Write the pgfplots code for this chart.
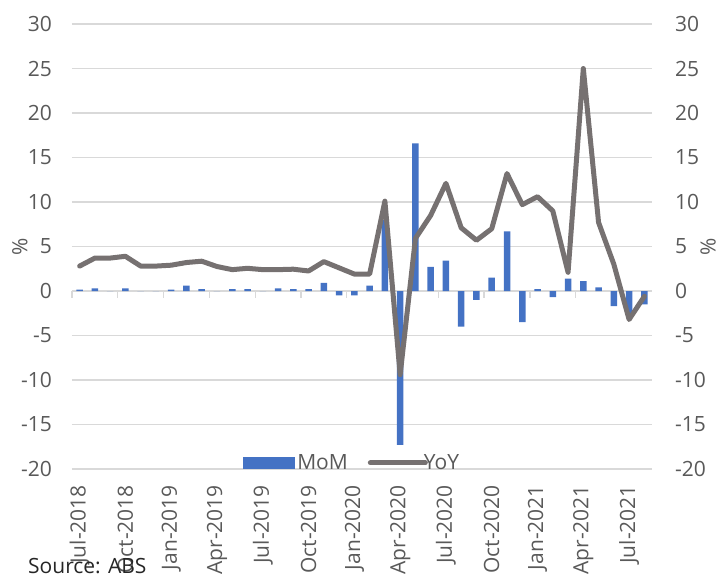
\documentclass[border=0pt]{standalone}
\usepackage{fontspec}
\setmainfont{Open Sans}
\usepackage{pgfplots}
\usepackage{pgfplotstable}
\pgfplotsset{compat=1.18}
\definecolor{mombl}{HTML}{4472C4}
\definecolor{yoygr}{HTML}{767171}
\definecolor{gridc}{HTML}{D9D9D9}
\definecolor{txt}{HTML}{595959}
\newcommand{\lblfont}{\fontsize{21bp}{25bp}\selectfont}

\pgfplotstableread{
i mom yoy
0 0.15 2.8
1 0.3 3.7
2 0.0 3.7
3 0.3 3.9
4 0.0 2.8
5 0.0 2.8
6 0.15 2.9
7 0.6 3.2
8 0.2 3.35
9 0.0 2.75
10 0.2 2.4
11 0.2 2.55
12 0.0 2.4
13 0.3 2.4
14 0.2 2.45
15 0.2 2.25
16 0.9 3.3
17 -0.5 2.6
18 -0.5 1.9
19 0.6 1.9
20 8.0 10.1
21 -17.3 -9.4
22 16.6 5.9
23 2.7 8.5
24 3.4 12.1
25 -4.0 7.1
26 -1.0 5.7
27 1.5 7.0
28 6.7 13.2
29 -3.5 9.7
30 0.2 10.6
31 -0.7 9.0
32 1.4 2.1
33 1.1 25.0
34 0.4 7.7
35 -1.7 3.0
36 -2.5 -3.2
37 -1.5 -0.6
}\datatable

\begin{document}
\begin{tikzpicture}
\begin{axis}[
  name=main,
  scale only axis, width=580bp, height=445bp,
  xmin=-0.5, xmax=37.5, ymin=-20, ymax=30,
  axis line style={draw=none},
  ytick={-20,-15,...,30},
  yticklabels={-20,-15,-10,-5,0,5,10,15,20,25,30},
  ymajorgrids, grid style={gridc, line width=1.3bp},
  major tick length=0pt,
  xtick={0,3,...,36},
  xticklabels={Jul-2018,Oct-2018,Jan-2019,Apr-2019,Jul-2019,Oct-2019,Jan-2020,Apr-2020,Jul-2020,Oct-2020,Jan-2021,Apr-2021,Jul-2021},
  xticklabel style={rotate=90, anchor=east, inner sep=0pt},
  xticklabel shift=16bp,
  yticklabel style={anchor=east, inner sep=0pt},
  yticklabel shift=20bp,
  tick label style={font=\lblfont, text=txt},
  legend style={at={(rel axis cs:0.483,0.0135)}, anchor=center, draw=none, fill=none,
    legend columns=2, font=\lblfont, text=txt,
    /tikz/every even column/.append style={column sep=18bp}},
  clip=false,
]
\pgfplotsinvokeforeach{-0.5,2.5,...,35.5}{
  \draw[gridc, line width=1.3bp] (axis cs:#1,0) -- ([yshift=-7bp]axis cs:#1,0);
}
\addplot[ybar, bar width=6.5bp, fill=mombl, draw=none,
  legend image code/.code={\fill[mombl] (0bp,-6bp) rectangle (52bp,6bp);}]
  table[x=i,y=mom]{\datatable};
\addplot[yoygr, line width=5bp, line join=round, line cap=round, no markers,
  legend image code/.code={\draw[yoygr, line width=5bp, line cap=round] (0bp,0bp) -- (55bp,0bp);}]
  table[x=i,y=yoy]{\datatable};
\legend{MoM,\hspace*{-6bp}YoY}
\node[text=txt, font=\lblfont, rotate=90] at ([xshift=-52bp]rel axis cs:0,0.5) {\%};
\node[text=txt, font=\lblfont, rotate=90] at ([xshift=56bp]rel axis cs:1,0.5) {\%};
\end{axis}
\begin{axis}[
  scale only axis, width=580bp, height=445bp,
  xmin=-0.5, xmax=37.5, ymin=-20, ymax=30,
  axis line style={draw=none},
  hide x axis,
  axis y line*=right,
  ytick={-20,-15,...,30},
  yticklabels={-20,-15,-10,-5,0,5,10,15,20,25,30},
  major tick length=0pt,
  yticklabel style={anchor=west, inner sep=0pt},
  yticklabel shift=23bp,
  tick label style={font=\lblfont, text=txt},
]
\addplot[draw=none, forget plot] coordinates {(0,0)};
\end{axis}
\pgfresetboundingbox
\useasboundingbox ([shift={(-72bp,-107bp)}]main.south west) rectangle ++(722bp,576bp);
\node[anchor=base west, inner sep=0pt, font=\lblfont, text=black!85] at ([shift={(-44bp,-104bp)}]main.south west) {Source: ABS};
\end{tikzpicture}
\end{document}
